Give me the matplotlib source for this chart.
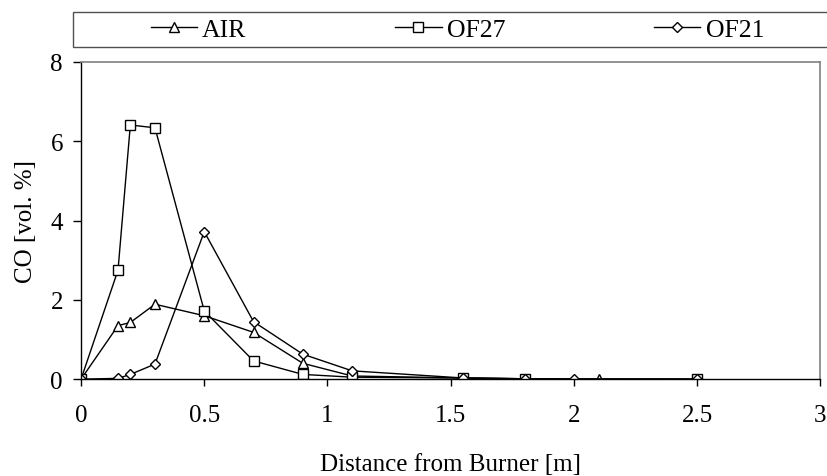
import matplotlib
matplotlib.use("Agg")
import matplotlib.pyplot as plt
from matplotlib.patches import Rectangle

# CO concentration along the furnace axis
air_x = [0, 0.15, 0.2, 0.3, 0.5, 0.7, 0.9, 1.1, 1.55, 1.8, 2.1, 2.5]
air_co = [0, 1.35, 1.43, 1.89, 1.6, 1.18, 0.40, 0.08, 0.03, 0.01, 0.0, 0.0]

of27_x = [0, 0.15, 0.2, 0.3, 0.5, 0.7, 0.9, 1.1, 1.55, 1.8, 2.5]
of27_co = [0, 2.75, 6.41, 6.34, 1.72, 0.46, 0.12, 0.05, 0.03, 0.01, 0.0]

of21_x = [0, 0.15, 0.2, 0.3, 0.5, 0.7, 0.9, 1.1, 1.55, 1.8, 2.0, 2.5]
of21_co = [0, 0.02, 0.12, 0.38, 3.72, 1.45, 0.63, 0.21, 0.03, 0.01, 0.0, 0.0]

x_ticks = [0, 0.5, 1, 1.5, 2, 2.5, 3]
x_labels = ["0", "0.5", "1", "1.5", "2", "2.5", "3"]
y_ticks = [0, 2, 4, 6, 8]

plt.rcParams["font.family"] = ["Liberation Serif", "DejaVu Serif"]
plt.rcParams["font.size"] = 18

fig = plt.figure(figsize=(8.27, 4.77), dpi=100)
ax = fig.add_axes([0.098, 0.203, 0.894, 0.665])

style = dict(color="black", lw=1.0, markerfacecolor="white",
             markeredgecolor="black", markeredgewidth=1.0)
ax.plot(air_x, air_co, marker="^", markersize=7.5, label="AIR", **style)
ax.plot(of27_x, of27_co, marker="s", markersize=6.5, label="OF27", **style)
ax.plot(of21_x, of21_co, marker="D", markersize=5.5, label="OF21", **style)

ax.set_xlim(0, 3)
ax.set_ylim(0, 8)
ax.set_xticks(x_ticks)
ax.set_xticklabels(x_labels)
ax.set_yticks(y_ticks)
ax.tick_params(axis="y", direction="out", length=6, width=1, pad=7)
ax.tick_params(axis="x", direction="out", length=5, width=1, pad=13)

for side in ("top", "right"):
    ax.spines[side].set_color("#808080")
    ax.spines[side].set_linewidth(1.2)
for side in ("left", "bottom"):
    ax.spines[side].set_linewidth(1.0)

ax.set_xlabel("Distance from Burner [m]", labelpad=19)
ax.set_ylabel("CO [vol. %]", labelpad=10)

# legend box spans the full width above the plot, entries centred in it
fig.patches.append(Rectangle((0.088, 0.899), 0.92, 0.074, transform=fig.transFigure,
                             facecolor="white", edgecolor="#505050", lw=1.0))
fig.legend(loc="center", ncol=3, bbox_to_anchor=(0.553, 0.936),
           frameon=False, handlelength=1.8, handletextpad=0.2,
           columnspacing=5.8, borderaxespad=0, fontsize=18.5)

fig.savefig("out.png", dpi=100)
